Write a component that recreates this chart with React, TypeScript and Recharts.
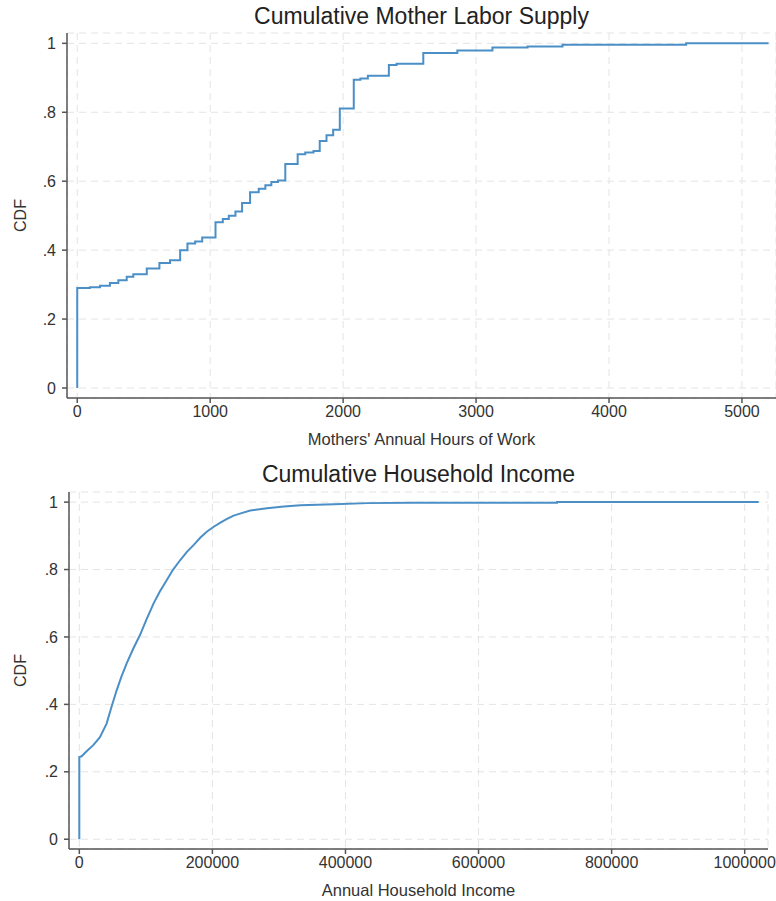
import { LineChart, Line, XAxis, YAxis, CartesianGrid } from 'recharts';

// ── data ──────────────────────────────────────────────────────────────────────

// Mothers' annual hours of work: empirical CDF steps (hours, cdf)
const hoursX = [
  0, 0, 95, 171, 246, 309, 372, 422, 523, 618, 698, 774, 829, 887, 940,
  1040, 1095, 1140, 1190, 1240, 1300, 1365, 1415, 1460, 1510, 1565, 1658,
  1715, 1777, 1824, 1875, 1925, 1975, 2080, 2130, 2186, 2344, 2402, 2603,
  2859, 3123, 3387, 3650, 4580, 5200,
];
const hoursCdf = [
  0, 0.29, 0.292, 0.297, 0.305, 0.313, 0.323, 0.33, 0.347, 0.363, 0.371, 0.4, 0.419, 0.425, 0.437,
  0.481, 0.49, 0.5, 0.512, 0.537, 0.568, 0.578, 0.588, 0.598, 0.602, 0.65, 0.678,
  0.683, 0.688, 0.717, 0.733, 0.749, 0.811, 0.894, 0.898, 0.906, 0.937, 0.941, 0.972,
  0.979, 0.988, 0.991, 0.996, 1, 1,
];
const hoursTicks = [0, 1000, 2000, 3000, 4000, 5000];

// Annual household income: empirical CDF (income, cdf)
const incomeX = [
  0, 0, 3500, 11000, 21000, 31000, 41000, 48000, 56000, 63000, 71000, 81000,
  91000, 101000, 111500, 121000, 131500, 141000, 152000, 162000, 172000, 182000,
  192000, 202000, 212000, 222000, 232000, 245000, 257000, 282000, 307500, 332500,
  383000, 433000, 500000, 718000, 718000, 1021000,
];
const incomeCdf = [
  0, 0.244, 0.246, 0.261, 0.279, 0.303, 0.343, 0.39, 0.441, 0.481, 0.521, 0.565,
  0.605, 0.652, 0.699, 0.735, 0.769, 0.8, 0.829, 0.853, 0.873, 0.895,
  0.913, 0.927, 0.939, 0.95, 0.96, 0.968, 0.975, 0.982, 0.987, 0.991,
  0.994, 0.997, 0.998, 0.998, 1, 1,
];
const incomeTicks = [0, 200000, 400000, 600000, 800000, 1000000];

const cdfTicks = [0, 0.2, 0.4, 0.6, 0.8, 1];

// ── config ────────────────────────────────────────────────────────────────────

const FONT = '"Liberation Sans", Arial, Helvetica, sans-serif';
const LINE = '#4b8fc6';
const AXIS = '#555555';
const TEXT = '#333333';
const GRID = '#e4e4e4';

const fmtCdf = (v: number) => (v === 0 ? '0' : v === 1 ? '1' : String(v).replace('0.', '.'));

const hoursData = hoursX.map((x, i) => ({ x, y: hoursCdf[i] }));
const incomeData = incomeX.map((x, i) => ({ x, y: incomeCdf[i] }));

interface PanelProps {
  title:    string;
  xLabel:   string;
  data:     { x: number; y: number }[];
  xDomain:  [number, number];
  xTicks:   number[];
  step:     boolean;
  height:   number;
  margin:   { top: number; right: number; left: number; bottom: number };
  yWidth:   number;
  titleTop: number;
}

function Panel({ title, xLabel, data, xDomain, xTicks, step, height, margin, yWidth, titleTop }: PanelProps) {
  const plotLeft = margin.left + yWidth;
  const plotRight = 776 - margin.right;
  return (
    <div style={{ position: 'relative', width: 776, height }}>
      <div
        style={{
          position: 'absolute', top: titleTop, left: plotLeft, width: plotRight - plotLeft,
          textAlign: 'center', fontSize: 23, color: '#222', fontFamily: FONT, lineHeight: '26px',
        }}
      >
        {title}
      </div>
      <LineChart width={776} height={height} data={data} margin={margin}>
        <CartesianGrid stroke={GRID} strokeDasharray="7 5" strokeWidth={1} />
        <XAxis
          dataKey="x"
          type="number"
          domain={xDomain}
          ticks={xTicks}
          interval={0}
          allowDataOverflow
          height={52}
          stroke={AXIS}
          strokeWidth={1.5}
          tickSize={5}
          tickMargin={3}
          tick={{ fontSize: 16, fill: TEXT, fontFamily: FONT }}
          label={{ value: xLabel, position: 'insideBottom', offset: 5, fontSize: 16.5, fill: TEXT, fontFamily: FONT }}
        />
        <YAxis
          type="number"
          domain={[-0.029, 1.03]}
          ticks={cdfTicks}
          interval={0}
          allowDataOverflow
          width={yWidth}
          stroke={AXIS}
          strokeWidth={1.5}
          tickSize={5}
          tickMargin={6}
          tickFormatter={fmtCdf}
          tick={{ fontSize: 16, fill: TEXT, fontFamily: FONT }}
          label={{ value: 'CDF', angle: -90, position: 'insideLeft', offset: 20, fontSize: 16, fill: TEXT, fontFamily: FONT, style: { textAnchor: 'middle' } }}
        />
        <Line
          dataKey="y"
          type={step ? 'stepAfter' : 'linear'}
          stroke={LINE}
          strokeWidth={2}
          dot={false}
          activeDot={false}
          isAnimationActive={false}
        />
      </LineChart>
    </div>
  );
}

// ── main ──────────────────────────────────────────────────────────────────────

export default function App() {
  return (
    <div style={{ position: 'absolute', left: 0, top: 0, width: 776, height: 901, background: '#fff' }}>
      <Panel
        title="Cumulative Mother Labor Supply"
        xLabel="Mothers' Annual Hours of Work"
        data={hoursData}
        xDomain={[-77, 5256]}
        xTicks={hoursTicks}
        step
        height={450}
        margin={{ top: 33, right: 0, left: 0, bottom: 0 }}
        yWidth={67}
        titleTop={3}
      />
      <Panel
        title="Cumulative Household Income"
        xLabel="Annual Household Income"
        data={incomeData}
        xDomain={[-15500, 1035000]}
        xTicks={incomeTicks}
        step={false}
        height={451}
        margin={{ top: 42, right: 8, left: 0, bottom: 0 }}
        yWidth={69}
        titleTop={11}
      />
    </div>
  );
}
